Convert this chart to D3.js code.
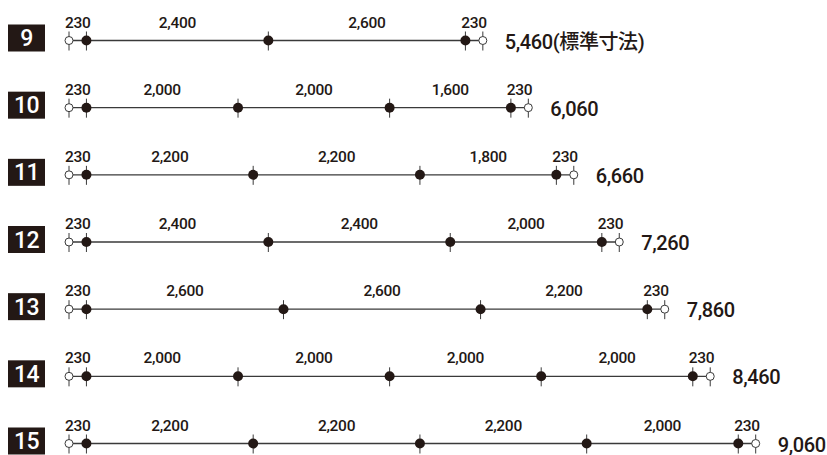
<!DOCTYPE html>
<html>
<head>
<meta charset="utf-8">
<script src="https://cdn.jsdelivr.net/npm/d3@7"></script>
<style>
  body { margin: 0; background: #fff; }
  svg text { font-family: Roboto, "Noto Sans CJK JP", sans-serif; font-weight: 500; }
</style>
</head>
<body>
<svg id="chart" width="827" height="455"></svg>
<script>
// span counts (row numbers) and the inner spans of each row, in mm
var rowIds = [9, 10, 11, 12, 13, 14, 15];
var rowSpans = [
  [2400, 2600],
  [2000, 2000, 1600],
  [2200, 2200, 1800],
  [2400, 2400, 2000],
  [2600, 2600, 2200],
  [2000, 2000, 2000, 2000],
  [2200, 2200, 2200, 2000]
];
var endWidth = 230;
var rowNotes = ["(標準寸法)", "", "", "", "", "", ""];

var svg = d3.select("#chart");
var fmt = d3.format(",");

var x = d3.scaleLinear().domain([0, 9060]).range([69, 755.7]);
var y = d3.scalePoint().domain(rowIds).range([40.5, 443.5]);

var rows = rowIds.map(function (id, i) {
  var spans = rowSpans[i];
  var total = endWidth * 2 + d3.sum(spans);
  // points: outer open, filled..., outer open
  var pts = [{ pos: 0, open: true }];
  var acc = endWidth;
  pts.push({ pos: acc, open: false });
  spans.forEach(function (s) {
    acc += s;
    pts.push({ pos: acc, open: false });
  });
  pts.push({ pos: total, open: true });
  var labels = [];
  for (var k = 0; k < pts.length - 1; k++) {
    labels.push({ mid: (pts[k].pos + pts[k + 1].pos) / 2, value: pts[k + 1].pos - pts[k].pos });
  }
  return { id: id, total: total, note: rowNotes[i], pts: pts, labels: labels };
});

var g = svg.selectAll("g.row")
  .data(rows)
  .enter()
  .append("g")
  .attr("class", "row")
  .attr("transform", function (d) { return "translate(0," + y(d.id) + ")"; });

// row number box
g.append("rect")
  .attr("x", 8)
  .attr("y", -16)
  .attr("width", 37)
  .attr("height", 27)
  .attr("fill", "#231815");

g.append("text")
  .attr("x", 26.5)
  .attr("y", 5.5)
  .attr("text-anchor", "middle")
  .attr("fill", "#fff")
  .attr("font-size", "23px")
  .attr("letter-spacing", "-0.5px")
  .text(function (d) { return d.id; });

// main line
g.append("line")
  .attr("x1", function (d) { return x(0); })
  .attr("x2", function (d) { return x(d.total); })
  .attr("stroke", "#3a3a3a")
  .attr("stroke-width", 1.3);

// ticks
g.selectAll("line.tick")
  .data(function (d) { return d.pts; })
  .enter()
  .append("line")
  .attr("class", "tick")
  .attr("x1", function (d) { return x(d.pos); })
  .attr("x2", function (d) { return x(d.pos); })
  .attr("y1", -9)
  .attr("y2", 10)
  .attr("stroke", "#3a3a3a")
  .attr("stroke-width", 1);

// points
g.selectAll("circle")
  .data(function (d) { return d.pts; })
  .enter()
  .append("circle")
  .attr("cx", function (d) { return x(d.pos); })
  .attr("cy", 0)
  .attr("r", function (d) { return d.open ? 4 : 5; })
  .attr("fill", function (d) { return d.open ? "#fff" : "#231815"; })
  .attr("stroke", function (d) { return d.open ? "#3a3a3a" : "none"; })
  .attr("stroke-width", 1);

// span labels
g.selectAll("text.span")
  .data(function (d) { return d.labels; })
  .enter()
  .append("text")
  .attr("class", "span")
  .attr("x", function (d) { return x(d.mid); })
  .attr("y", -13)
  .attr("text-anchor", "middle")
  .attr("fill", "#231815")
  .attr("font-size", "15.5px")
  .attr("letter-spacing", "-0.3px")
  .text(function (d) { return fmt(d.value); });

// total
g.append("text")
  .attr("x", function (d) { return x(d.total) + 22; })
  .attr("y", 8)
  .attr("fill", "#231815")
  .attr("font-size", "20px")
  .attr("letter-spacing", "-0.4px")
  .text(function (d) { return fmt(d.total) + d.note; });
</script>
</body>
</html>
